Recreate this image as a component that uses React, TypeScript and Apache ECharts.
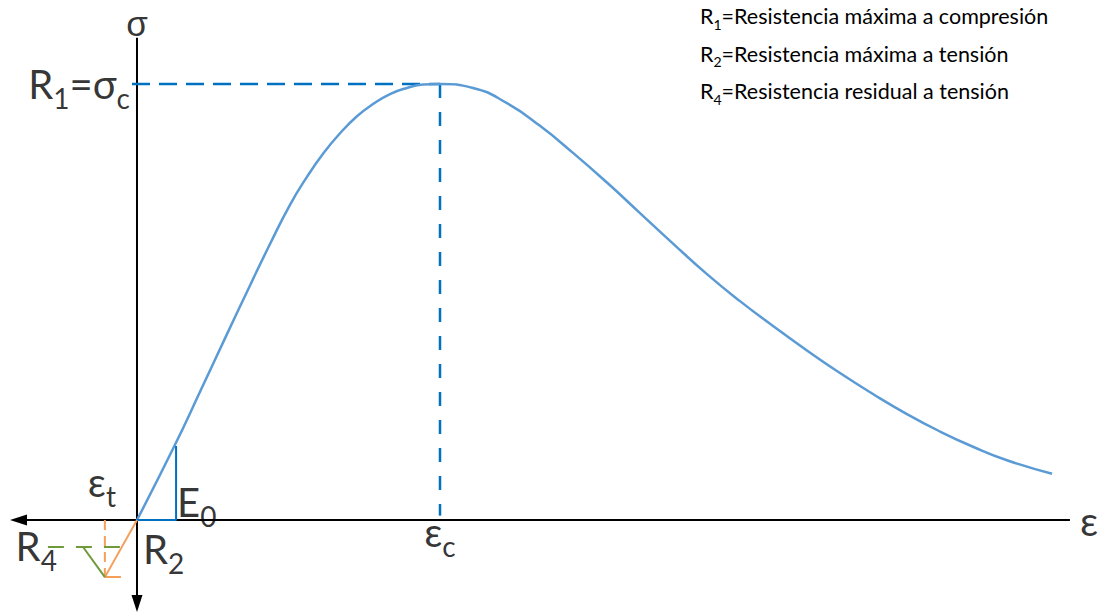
import React, { useEffect, useRef } from "react";
import * as echarts from "echarts";

// Normalised stress–strain curve: ε/εc on x, σ/σc on y
const strain = [0, 0.125, 0.208, 0.29, 0.373, 0.439, 0.505, 0.561, 0.614, 0.67, 0.726, 0.779, 0.835, 0.891, 0.944, 1.0, 1.109, 1.221, 1.33, 1.439, 1.551, 1.66, 1.769, 1.881, 1.99, 2.099, 2.211, 2.32, 2.429, 2.541, 2.65, 2.759, 2.871, 3.02];
const stress = [0, 0.172, 0.294, 0.416, 0.538, 0.633, 0.723, 0.787, 0.84, 0.887, 0.926, 0.954, 0.977, 0.991, 0.999, 1.0, 0.991, 0.956, 0.904, 0.842, 0.774, 0.704, 0.634, 0.564, 0.502, 0.445, 0.389, 0.337, 0.289, 0.243, 0.203, 0.168, 0.137, 0.106];

// Characteristic points
const peakStrain = 1; // εc
const peakStress = 1; // R1 = σc
const e0Run = 0.129; // E0 slope triangle
const e0Rise = 0.17;
const tensileStrain = -0.106; // εt
const tensileStrength = -0.131; // R2
const tensionStepEnd = -0.053;
const residualStrength = -0.062; // R4
const residualStart = -0.178;
const residualFrom = -0.294;
const residualTo = -0.056;

// Axis arrows
const xLeft = -0.391;
const xRight = 3.079;
const yTop = 1.106;
const yBottom = -0.1915;

const legendLines = [
  ["1", "=Resistencia máxima a compresión"],
  ["2", "=Resistencia máxima a tensión"],
  ["4", "=Resistencia residual a tensión"],
];

const FONT = 'Lato, "Noto Sans", sans-serif';
const BLUE_CURVE = "#5B9BD5";
const BLUE_DARK = "#0070C0";
const ORANGE = "#F4A05B";
const GREEN = "#6F9A3A";

const bigRich = {
  b: { fontSize: 40, lineHeight: 48, verticalAlign: "top", fontFamily: FONT, color: "#000" },
  t: { fontSize: 40, lineHeight: 36, fontFamily: FONT, color: "#000" },
  g: { fontSize: 35, lineHeight: 32, fontFamily: '"Liberation Sans", sans-serif', color: "#000" },
  s: { fontSize: 28, lineHeight: 28, padding: [20, 0, 0, 0], verticalAlign: "top", fontFamily: FONT, color: "#000" },
};
const smallRich = {
  b: { fontSize: 21.5, lineHeight: 26, verticalAlign: "top", fontFamily: FONT, color: "#000" },
  s: { fontSize: 14, lineHeight: 14, padding: [12, 0, 0, 0], verticalAlign: "top", fontFamily: FONT, color: "#000" },
};

function seg(points: number[][], color: string, width: number, dash?: number[]) {
  return {
    type: "line",
    data: points,
    symbol: "none",
    silent: true,
    lineStyle: { color, width, type: dash ? dash : "solid", cap: "butt" },
  };
}

function tag(value: number[], text: string, align: string, offset: number[]) {
  return {
    value,
    label: {
      show: true,
      position: "inside",
      formatter: text,
      align,
      verticalAlign: "middle",
      offset,
      rich: bigRich,
    },
  };
}

export default function App() {
  const ref = useRef<HTMLDivElement>(null);
  useEffect(() => {
    const chart = echarts.init(ref.current!, null, { renderer: "svg" });
    const curve = strain.map((x, i) => [x, stress[i]]);
    chart.setOption({
      animation: false,
      backgroundColor: "#fff",
      grid: { left: 0, right: 0, top: 0, bottom: 0 },
      xAxis: { type: "value", min: -0.4521, max: 3.1848, show: false },
      yAxis: { type: "value", min: -0.2133, max: 1.1927, show: false },
      graphic: legendLines.map(([sub, rest], i) => ({
        type: "text",
        left: 700,
        top: 5 + i * 37.5,
        silent: true,
        style: { text: `{b|R}{s|${sub}}{b|${rest}}`, rich: smallRich },
      })),
      series: [
        // axes
        {
          type: "line",
          silent: true,
          showSymbol: true,
          lineStyle: { color: "#000", width: 2 },
          itemStyle: { color: "#000" },
          data: [
            { value: [xRight, 0], symbol: "none" },
            { value: [xLeft, 0], symbol: "triangle", symbolSize: [11, 17], symbolRotate: 90 },
          ],
        },
        {
          type: "line",
          silent: true,
          showSymbol: true,
          lineStyle: { color: "#000", width: 2 },
          itemStyle: { color: "#000" },
          data: [
            { value: [0, yTop], symbol: "none" },
            { value: [0, yBottom], symbol: "triangle", symbolSize: [11, 17], symbolRotate: 180 },
          ],
        },
        // peak guides
        seg([[-0.0165, peakStress], [peakStrain, peakStress]], BLUE_DARK, 2.5, [18, 9]),
        seg([[peakStrain, peakStress], [peakStrain, 0.01]], BLUE_DARK, 2.5, [14, 14]),
        // stress–strain curve
        {
          type: "line",
          data: curve,
          symbol: "none",
          smooth: 0.5,
          silent: true,
          lineStyle: { color: BLUE_CURVE, width: 2.5 },
        },
        // initial modulus E0
        seg([[0, 0], [e0Run, 0], [e0Run, e0Rise]], BLUE_DARK, 2),
        // tension branch
        seg([[tensileStrain, 0], [tensileStrain, tensileStrength]], ORANGE, 2, [10, 6]),
        seg([[0, 0], [tensileStrain, tensileStrength], [tensionStepEnd, tensileStrength]], ORANGE, 2),
        seg([[residualFrom, residualStrength], [residualTo, residualStrength]], GREEN, 2, [16, 12]),
        seg([[residualStart, residualStrength], [tensileStrain, tensileStrength]], GREEN, 2),
        // labels
        {
          type: "scatter",
          symbolSize: 1,
          silent: true,
          itemStyle: { color: "rgba(0,0,0,0)" },
          data: [
            tag([0, yTop], "{g|σ}", "center", [0, -14]),
            tag([0, peakStress], "{b|R}{s|1}{b|=σ}{s|c}", "right", [-7, 4]),
            tag([tensileStrain, 0], "{b|ε}{s|t}", "center", [-3, -34]),
            tag([e0Run, 0], "{b|E}{s|0}", "left", [1, -14]),
            tag([residualFrom, residualStrength], "{b|R}{s|4}", "right", [9, 3]),
            tag([0, tensileStrength], "{b|R}{s|2}", "left", [6, -24]),
            tag([peakStrain, 0], "{b|ε}{s|c}", "center", [0, 16]),
            tag([xRight, 0], "{t|ε}", "center", [19, 1]),
          ],
        },
      ],
    });
    return () => chart.dispose();
  }, []);
  return (
    <div
      ref={ref}
      style={{ position: "fixed", left: 0, top: 0, width: 1102, height: 613, background: "#fff" }}
    />
  );
}
